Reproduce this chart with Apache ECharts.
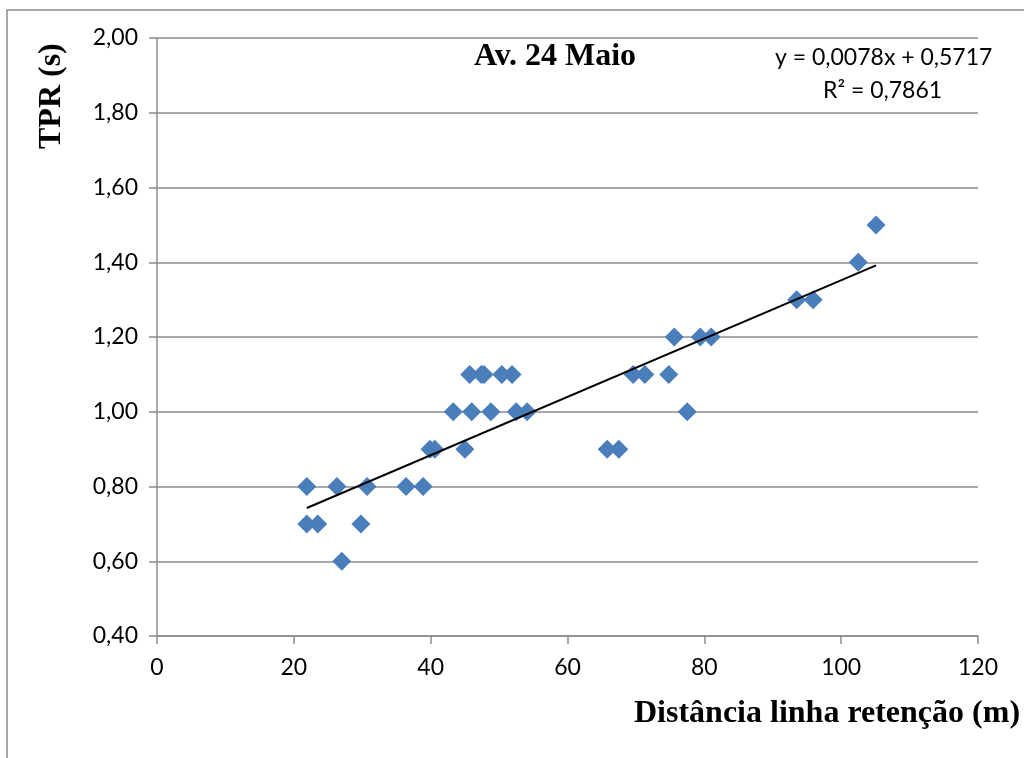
<!DOCTYPE html>
<html>
<head>
<meta charset="utf-8">
<script src="https://cdn.jsdelivr.net/npm/echarts@6/dist/echarts.min.js"></script>
<style>
  html, body { margin: 0; padding: 0; background: #fff; }
  #chart { width: 1024px; height: 758px; }
</style>
</head>
<body>
<div id="chart"></div>
<script>
// distance to stop line (m)
const distancias = [
  21.9, 21.9, 23.5, 26.3, 27.0, 29.8, 30.7, 36.4, 38.9, 39.9,
  40.6, 43.3, 45.0, 45.7, 46.0, 47.4, 47.8, 48.8, 50.4, 51.9,
  52.5, 54.1, 65.8, 67.5, 69.6, 71.3, 74.8, 75.6, 77.5, 79.4,
  81.0, 93.5, 95.9, 102.5, 105.1
];
// TPR (s)
const tpr = [
  0.80, 0.70, 0.70, 0.80, 0.60, 0.70, 0.80, 0.80, 0.80, 0.90,
  0.90, 1.00, 0.90, 1.10, 1.00, 1.10, 1.10, 1.00, 1.10, 1.10,
  1.00, 1.00, 0.90, 0.90, 1.10, 1.10, 1.10, 1.20, 1.00, 1.20,
  1.20, 1.30, 1.30, 1.40, 1.50
];
// trendline from the chart's equation
const slope = 0.0078;
const intercept = 0.5717;
const eqText = 'y = 0,0078x + 0,5717';
const r2Text = 'R² = 0,7861';

const pontos = distancias.map((d, i) => [d, tpr[i]]);
const xMin = Math.min(...distancias);
const xMax = Math.max(...distancias);
const tendencia = [[xMin, slope * xMin + intercept], [xMax, slope * xMax + intercept]];

const chart = echarts.init(document.getElementById('chart'));
const labelFont = 'Lato, "Open Sans", sans-serif';
const serif = '"Liberation Serif", "DejaVu Serif", serif';

chart.setOption({
  backgroundColor: '#fff',
  animation: false,
  grid: { left: 157, right: 46, top: 38, bottom: 122 },
  xAxis: {
    type: 'value', min: 0, max: 120, interval: 20,
    axisLine: { show: true, lineStyle: { color: '#8c8c8c', width: 1.5 } },
    axisTick: { show: true, length: 8, lineStyle: { color: '#8c8c8c', width: 1.5 } },
    axisLabel: { color: '#000', fontSize: 23, fontFamily: labelFont, margin: 20 },
    splitLine: { show: false }
  },
  yAxis: {
    type: 'value', min: 0.4, max: 2.0, interval: 0.2,
    axisLine: { show: true, lineStyle: { color: '#8c8c8c', width: 1.5 } },
    axisTick: { show: true, length: 8, lineStyle: { color: '#8c8c8c', width: 1.5 } },
    axisLabel: {
      color: '#000', fontSize: 23, fontFamily: labelFont, margin: 19,
      formatter: v => v.toFixed(2).replace('.', ',')
    },
    splitLine: { show: true, lineStyle: { color: '#8c8c8c', width: 1.5 } }
  },
  series: [
    {
      type: 'scatter',
      data: pontos,
      symbol: 'diamond',
      symbolSize: 19,
      itemStyle: { color: '#4a7ebb', opacity: 1 },
      z: 3
    },
    {
      type: 'line',
      data: tendencia,
      symbol: 'none',
      lineStyle: { color: '#000', width: 2 },
      z: 4
    }
  ],
  graphic: [
    {
      type: 'rect', z: -1,
      shape: { x: 7, y: 10, width: 1100, height: 900 },
      style: { fill: 'none', stroke: '#8c8c8c', lineWidth: 1.5 }
    },
    {
      type: 'text', left: 474, top: 41,
      style: { text: 'Av. 24 Maio', font: 'bold 32px ' + serif, fill: '#000' }
    },
    {
      type: 'text', left: 775, top: 46,
      style: { text: eqText, font: '23px ' + labelFont, fill: '#000' }
    },
    {
      type: 'text', left: 823, top: 79,
      style: { text: r2Text, font: '23px ' + labelFont, fill: '#000' }
    },
    {
      type: 'text', x: 36, y: 149, rotation: Math.PI / 2,
      style: { text: 'TPR (s)', font: 'bold 32px ' + serif, fill: '#000', align: 'left', verticalAlign: 'top' }
    },
    {
      type: 'text', left: 634, top: 698,
      style: { text: 'Distância linha retenção (m)', font: 'bold 32px ' + serif, fill: '#000' }
    }
  ]
});
</script>
</body>
</html>
